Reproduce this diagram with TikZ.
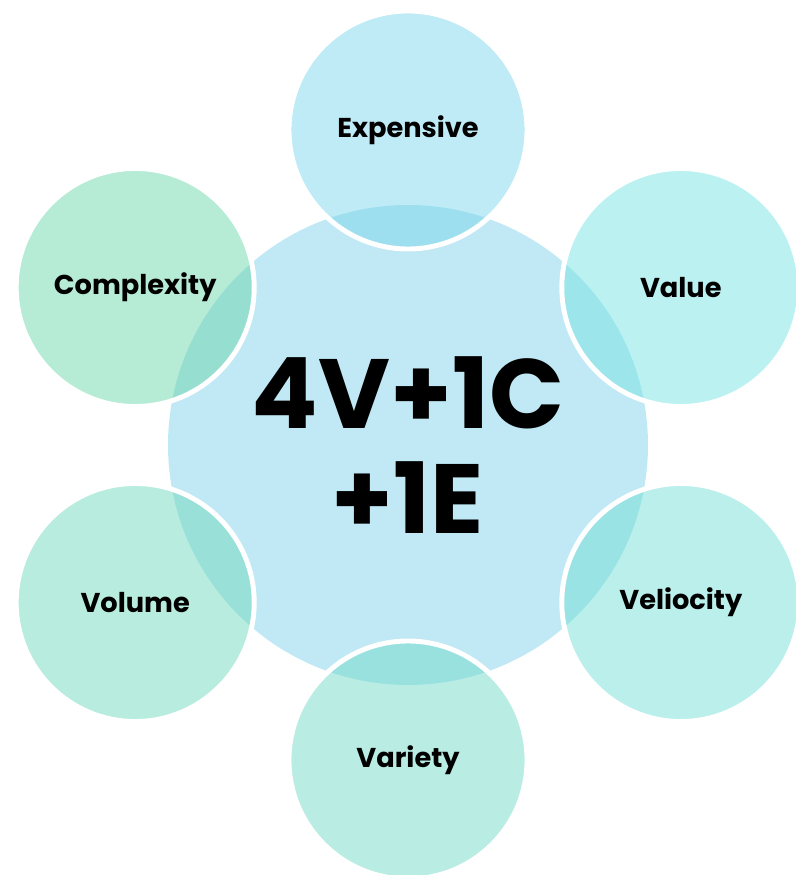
\documentclass[tikz,border=0pt]{standalone}
\usepackage{fontspec}
\setmainfont{Poppins}
\usepackage{xcolor}
\usetikzlibrary{positioning}

\definecolor{coreblue}{RGB}{192,233,245}
\definecolor{expcol}{RGB}{125,215,235}
\definecolor{valcol}{RGB}{119,227,227}
\definecolor{velcol}{RGB}{117,223,215}
\definecolor{varcol}{RGB}{115,219,201}
\definecolor{volcol}{RGB}{113,217,189}
\definecolor{cplcol}{RGB}{109,215,173}

\begin{document}
\begin{tikzpicture}[
    core/.style={
      circle, fill=coreblue, minimum size=9.6cm, inner sep=0pt,
      align=center, font=\fontsize{56}{60}\selectfont\bfseries
    },
    petal/.style={
      circle, draw=white, line width=2.8pt,
      fill=#1, fill opacity=0.5, text opacity=1,
      minimum size=4.76cm, inner sep=0pt,
      font=\fontsize{15.5}{18}\selectfont\bfseries
    }
  ]

    \useasboundingbox (-8.16,-8.6) rectangle (7.74,8.9);

    % Centre
    \node[core] (core) at (0,0) {4V+1C\\+1E};

    % Petals round the centre
    \node[petal=expcol] (expensive)  at (90:6.3)  {Expensive};
    \node[petal=valcol] (value)      at (30:6.3)  {Value};
    \node[petal=velcol] (velocity)   at (-30:6.3) {Veliocity};
    \node[petal=varcol] (variety)    at (-90:6.3) {Variety};
    \node[petal=volcol] (volume)     at (210:6.3) {Volume};
    \node[petal=cplcol] (complexity) at (150:6.3) {Complexity};

  \end{tikzpicture}
\end{document}
